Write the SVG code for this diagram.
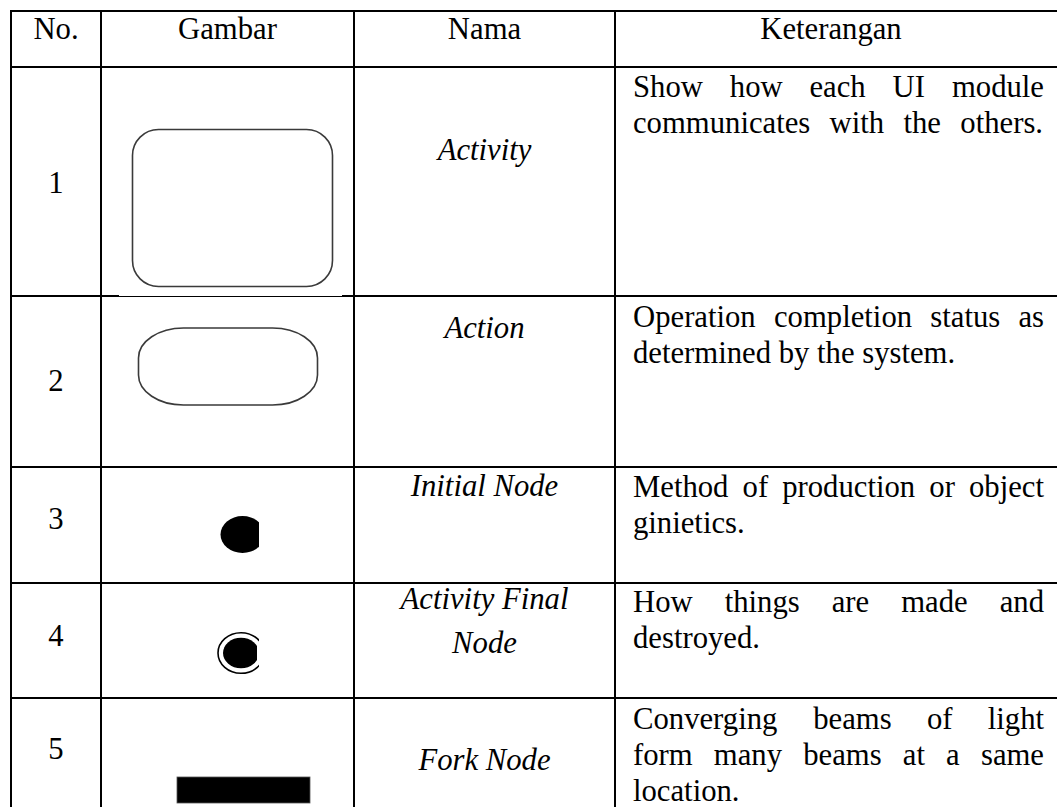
<svg xmlns="http://www.w3.org/2000/svg" width="1057" height="807" viewBox="0 0 1057 807">
<style>
  text { font-family: "Liberation Serif", "Times New Roman", serif; font-size: 30.7px; fill: #000; }
  .c { text-anchor: middle; }
  .i { font-style: italic; }
  .e { text-anchor: end; }
  .grid line { stroke: #000; stroke-width: 2; }
  .shape { fill: #fff; stroke: #3a3a3a; stroke-width: 1.6; }
</style>
<defs>
  <clipPath id="cutRight"><rect x="0" y="0" width="259" height="807"/></clipPath>
  <clipPath id="cutRightInner"><rect x="0" y="0" width="257" height="807"/></clipPath>
</defs>
<rect width="1057" height="807" fill="#fff"/>

<g id="grid" class="grid">
  <line x1="10" y1="11" x2="1057" y2="11"/>
  <line x1="10" y1="67" x2="1057" y2="67"/>
  <line x1="10" y1="296" x2="1057" y2="296"/>
  <line x1="10" y1="467" x2="1057" y2="467"/>
  <line x1="10" y1="583" x2="1057" y2="583"/>
  <line x1="10" y1="698" x2="1057" y2="698"/>
  <line x1="11" y1="10" x2="11" y2="807"/>
  <line x1="101" y1="10" x2="101" y2="807"/>
  <line x1="354" y1="10" x2="354" y2="807"/>
  <line x1="615" y1="10" x2="615" y2="807"/>
</g>
<rect x="119" y="295" width="223" height="1" fill="#fff"/>

<g id="header">
  <text class="c" x="56" y="39">No.</text>
  <text class="c" x="227.5" y="39">Gambar</text>
  <text class="c" x="484.5" y="39">Nama</text>
  <text class="c" x="831" y="39">Keterangan</text>
</g>

<g id="row1">
  <text class="c" x="56" y="193">1</text>
  <rect class="shape" x="132.5" y="129.5" width="200" height="157" rx="26" ry="26"/>
  <text class="c i" x="484.5" y="160">Activity</text>
  <text x="633" y="97">Show</text>
  <text x="729.8" y="97">how</text>
  <text x="809.5" y="97">each</text>
  <text x="892.6" y="97">UI</text>
  <text class="e" x="1044" y="97">module</text>
  <text x="633" y="132.5">communicates</text>
  <text x="829.6" y="132.5">with</text>
  <text x="903.5" y="132.5">the</text>
  <text class="e" x="1043" y="132.5">others.</text>
</g>

<g id="row2">
  <text class="c" x="56" y="391">2</text>
  <rect class="shape" x="138.5" y="328" width="179" height="77" rx="45" ry="30"/>
  <text class="c i" x="484.5" y="338">Action</text>
  <text x="633" y="327">Operation</text>
  <text x="774" y="327">completion</text>
  <text x="930.3" y="327">status</text>
  <text class="e" x="1044" y="327">as</text>
  <text x="633" y="362.5">determined by the system.</text>
</g>

<g id="row3">
  <text class="c" x="56" y="529">3</text>
  <ellipse cx="242.5" cy="534.5" rx="22" ry="18.5" fill="#000" clip-path="url(#cutRight)"/>
  <text class="c i" x="484.5" y="496">Initial Node</text>
  <text x="633" y="497">Method</text>
  <text x="742.6" y="497">of</text>
  <text x="782.2" y="497">production</text>
  <text x="929.3" y="497">or</text>
  <text class="e" x="1044" y="497">object</text>
  <text x="633" y="533">ginietics.</text>
</g>

<g id="row4">
  <text class="c" x="56" y="646">4</text>
  <g clip-path="url(#cutRight)">
    <ellipse cx="241" cy="653" rx="23" ry="20.3" fill="#fff" stroke="#000" stroke-width="1.6"/>
  </g>
  <ellipse cx="241" cy="653" rx="18" ry="15.3" fill="#000" clip-path="url(#cutRightInner)"/>
  <text class="c i" x="484.5" y="609">Activity Final</text>
  <text class="c i" x="484.5" y="653">Node</text>
  <text x="633" y="612">How</text>
  <text x="724.7" y="612">things</text>
  <text x="831.7" y="612">are</text>
  <text x="901.2" y="612">made</text>
  <text class="e" x="1044" y="612">and</text>
  <text x="633" y="648">destroyed.</text>
</g>

<g id="row5">
  <text class="c" x="56" y="759">5</text>
  <rect x="177" y="777" width="133" height="26" fill="#000" stroke="#555" stroke-width="0.8"/>
  <text class="c i" x="484.5" y="770">Fork Node</text>
  <text x="633" y="728.5">Converging</text>
  <text x="813.2" y="728.5">beams</text>
  <text x="926.9" y="728.5">of</text>
  <text class="e" x="1044" y="728.5">light</text>
  <text x="633" y="765">form</text>
  <text x="713.8" y="765">many</text>
  <text x="803.2" y="765">beams</text>
  <text x="902.8" y="765">at</text>
  <text x="946.1" y="765">a</text>
  <text class="e" x="1044" y="765">same</text>
  <text x="633" y="800.5">location.</text>
</g>
</svg>
